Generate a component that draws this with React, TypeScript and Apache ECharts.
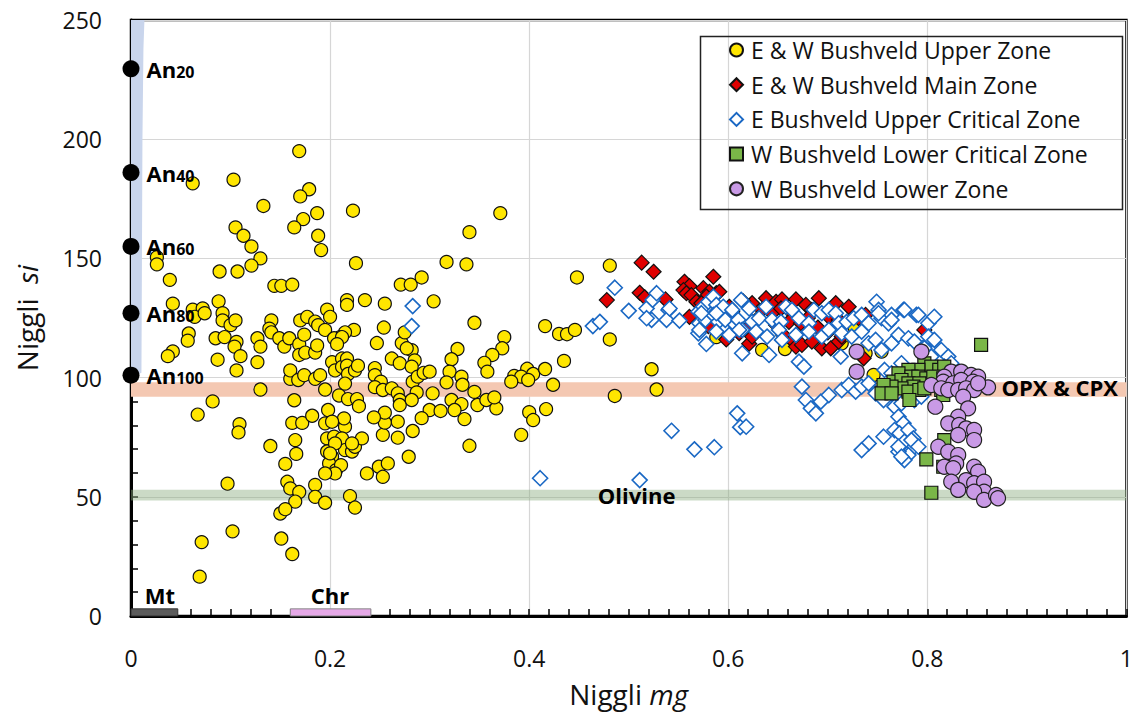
import React, { useEffect, useRef } from "react";
import * as echarts from "echarts";

// ---------- data (Niggli mg, Niggli si) ----------
const upperZone: number[][] = [
  [0.169,195],[0.103,183],[0.062,181.5],[0.179,179],[0.170,176],[0.133,172],[0.223,170],[0.187,169],[0.173,166.5],[0.105,163],[0.164,163],[0.113,159.5],[0.188,159.5],[0.121,155],[0.191,153.5],[0.130,150],[0.026,150.5],[0.026,147.5],[0.226,148],[0.121,147],[0.089,144.5],[0.107,144.5],[0.039,141],[0.144,138.5],[0.151,138.5],[0.162,139],
  [0.371,169],[0.340,161],[0.317,148.5],[0.337,147.5],[0.271,139],[0.281,139],[0.292,142],[0.481,147],[0.448,142],
  [0.042,131],[0.088,132],[0.062,128.5],[0.072,129],[0.064,125.5],[0.074,127],[0.217,132.5],[0.217,130.5],[0.235,132.5],[0.255,131],[0.304,132],[0.197,128.5],[0.200,125.5],[0.092,127],[0.092,124],[0.100,122],[0.105,124],[0.141,124],[0.139,120.5],[0.141,119],[0.170,124],[0.177,125.5],[0.185,123.5],[0.188,122],[0.224,120],[0.215,119],[0.210,117],[0.345,123],
  [0.058,118.5],[0.057,115.5],[0.085,116.5],[0.094,117],[0.106,115],[0.104,113],[0.110,109],[0.127,116.5],[0.130,113],[0.127,106.5],[0.087,107.5],[0.106,103],[0.042,111],[0.037,109],
  [0.149,116.5],[0.154,113],[0.159,116.5],[0.160,99.5],[0.195,120],[0.169,114],[0.174,118],[0.169,109.5],[0.175,110.5],[0.185,110.5],[0.187,113.5],[0.160,103],[0.168,99],[0.174,101],[0.185,99.5],[0.190,101],
  [0.204,116.5],[0.212,117],[0.207,114],[0.202,106.5],[0.205,103],[0.212,108],[0.212,104.5],[0.217,108],[0.217,105],[0.218,101.5],[0.225,103],[0.228,105],[0.215,97.5],[0.209,92.5],[0.218,91],[0.227,91],[0.229,88],[0.195,95],
  [0.247,114.5],[0.254,121],[0.272,114.5],[0.275,119],[0.262,108],[0.270,106],[0.282,111.5],[0.277,112.3],[0.285,107.2],[0.282,104.6],[0.245,104],[0.245,101],[0.251,98.3],[0.245,96],[0.253,94.8],[0.262,95.5],[0.268,93.4],[0.270,90.6],[0.270,88.5],[0.283,98.3],[0.288,100.4],[0.287,93.8],[0.282,90.6],[0.294,102],[0.300,102.5],[0.303,93.4],
  [0.375,117],[0.373,112.3],[0.363,109.5],[0.355,106.2],[0.358,102.5],[0.328,112],[0.322,107.7],[0.320,102.5],[0.332,100.4],[0.333,97],[0.317,98],[0.345,94],[0.300,86.4],[0.292,83],[0.311,86],[0.322,90.6],[0.332,88.9],[0.335,82.6],[0.325,86.4],[0.348,88.5],[0.357,90.6],[0.367,87.1],[0.365,91.7],[0.340,71.4],[0.283,77.6],[0.268,74.8],[0.253,76],[0.268,81.5],[0.255,81.1],[0.255,85.3],[0.244,83.3],[0.279,66.8],
  [0.416,121.6],[0.430,118.3],[0.438,118.2],[0.446,120],[0.481,116],[0.435,107],[0.398,103.7],[0.404,101.5],[0.416,103.6],[0.385,100.7],[0.392,100.4],[0.382,98.3],[0.399,99],[0.424,97],[0.523,103.5],[0.528,95],[0.486,92.3],[0.400,85.5],[0.404,82.2],[0.417,86.8],[0.392,76],
  [0.130,95],[0.082,90],[0.067,84.5],[0.164,90.5],[0.109,80.5],[0.108,77],[0.162,81],[0.172,81],[0.182,84],[0.195,80.8],[0.198,86.4],[0.215,79.4],[0.214,82.9],[0.202,81.5],
  [0.165,73.8],[0.166,68],[0.155,63.8],[0.140,71.3],[0.197,74.5],[0.197,69],[0.202,66.8],[0.199,64],[0.206,61.2],[0.211,63.3],[0.204,75.2],[0.212,74.5],[0.215,69.6],[0.222,69],[0.225,71],[0.232,74.5],[0.222,72.4],[0.205,72.4],[0.200,68.2],[0.205,59.8],
  [0.195,59.8],[0.185,55],[0.157,56.3],[0.160,53.5],[0.169,52],[0.165,48],[0.185,50],[0.195,47.5],[0.220,50.3],[0.225,45.5],[0.150,43],[0.155,44.8],
  [0.237,59.8],[0.249,62.6],[0.258,64],[0.253,58.4],
  [0.097,55.5],[0.102,35.5],[0.071,31],[0.151,32.5],[0.162,26],[0.069,16.5],
  [0.588,117],[0.585,124],[0.634,111.6],[0.657,112],[0.714,114.4],[0.738,110.2],[0.754,110.9],[0.746,101.1],[0.727,121]
];

const mainZone: number[][] = [
  [0.478,132.5],[0.513,148.2],[0.525,144.4],[0.511,135.6],[0.516,133.7],[0.537,132.8],
  [0.556,140.2],[0.561,138.4],[0.555,136.7],[0.558,135.4],[0.563,134.6],[0.585,142.3],
  [0.575,137.5],[0.581,136],[0.588,135.4],[0.578,134],[0.591,136],[0.568,131.8],[0.573,131.2],
  [0.561,125.5],[0.580,121.6],[0.598,116],[0.621,114.2],[0.601,129.7],[0.604,127.6],
  [0.624,131.2],[0.638,133.3],[0.648,131.8],[0.654,132.8],[0.668,132.8],[0.691,133.3],
  [0.634,128.4],[0.644,127],[0.653,129],[0.661,128.4],[0.678,130.5],[0.684,128.4],[0.708,131.2],[0.721,129.7],
  [0.648,122.1],[0.661,123.4],[0.673,122.8],[0.701,125.5],[0.711,124.2],[0.731,124.9],[0.738,126.3],
  [0.664,115.8],[0.668,113],[0.674,113.7],[0.684,115.1],[0.694,112.3],[0.703,112.3],[0.711,115.1],[0.714,117.2],
  [0.621,121.4],[0.611,118.6],[0.624,117.2],[0.736,108.1],[0.797,120],
  [0.630,125],[0.690,121],[0.655,118],[0.700,119],[0.615,132],[0.680,125],[0.592,126]
];

const upperCriticalZone: number[][] = [
  [0.283,130],[0.282,121.6],[0.411,57.8],[0.511,57],
  [0.464,121.6],[0.471,123.4],[0.486,137.7],[0.500,128],
  [0.518,129],[0.524,132.6],[0.528,135.4],[0.523,124.2],[0.518,124.9],[0.540,128.4],[0.538,124.2],[0.551,123.9],[0.541,129],
  [0.570,127.6],[0.575,129.7],[0.580,131.8],[0.585,133.9],[0.588,130.5],[0.595,129.7],[0.571,122.8],[0.577,124.2],[0.585,126.3],[0.590,123.4],[0.597,124.2],[0.607,122.1],[0.610,124.2],[0.613,132.6],[0.621,129],[0.624,123.4],[0.570,118.6],[0.578,114.1],[0.588,119.3],[0.601,117.9],[0.614,120],[0.614,110.2],
  [0.543,77.7],[0.609,85],[0.612,79.2],[0.566,69.9],[0.586,70.8],[0.618,79.4],
  [0.573,127],[0.588,127],[0.571,120],
  [0.604,128.4],[0.631,124.9],[0.638,129.7],[0.644,124.2],[0.653,123.4],[0.658,129.7],[0.664,128.4],[0.671,124.9],[0.681,122.8],[0.686,128.4],[0.694,127],[0.701,128.4],[0.708,127],[0.711,122.8],[0.719,123.4],[0.726,124.9],[0.734,126.3],[0.741,122.8],[0.749,131.8],[0.751,128.4],[0.754,124.9],[0.761,122.8],[0.764,126.3],[0.776,128.4],[0.789,126.3],[0.801,122.8],
  [0.611,120],[0.628,119.3],[0.639,117.2],[0.651,120],[0.654,115.8],[0.668,117.9],[0.681,119.3],[0.694,117.2],[0.701,120],[0.714,118.6],[0.724,117.2],[0.734,119.3],[0.741,114.4],[0.748,115.8],[0.754,111.6],[0.764,114.4],[0.771,117.9],[0.781,116.5],[0.787,115.1],[0.797,113],[0.801,117.2],
  [0.641,109.5],[0.671,106.7],[0.676,104.6],[0.713,108.8],[0.757,103.2],[0.764,101.8],[0.774,106],
  [0.674,96.2],[0.678,90.6],[0.683,87.1],[0.688,85],[0.693,89.9],[0.701,92.7],[0.714,94.8],[0.721,96.9],[0.728,94.1],[0.734,96.2],[0.741,97.6],[0.748,93.4],[0.756,90.6],[0.764,93.4],[0.767,87.8],[0.774,89.2],[0.781,96.2],[0.787,90.6],[0.794,92],
  [0.771,83.6],[0.776,80.8],[0.767,78],[0.772,76.6],[0.781,78],[0.786,74.5],[0.777,73.1],[0.787,71],[0.781,67.5],[0.756,75.2],[0.741,72.4],[0.734,69.6],[0.771,68.9],[0.777,65.4],
  [0.807,125.5],[0.777,128.4],[0.791,126.3],[0.764,124.2],[0.751,127],
  [0.807,115.8],[0.814,111.6],[0.821,108.8],[0.797,112.3],[0.804,108.8],[0.817,104.6],[0.824,106],
  [0.784,73.8],[0.791,71],[0.771,71],[0.774,66.8]
];

const lowerCriticalZone: number[][] = [
  [0.854,113.7],[0.797,106],[0.804,104.6],[0.812,103.2],[0.817,104.6],[0.791,103.2],[0.781,103.2],[0.771,101.8],
  [0.784,100.4],[0.791,100.4],[0.799,99.7],[0.806,100.4],[0.816,99.7],[0.766,98.3],[0.774,99],[0.781,97.6],
  [0.792,97.6],[0.786,96.2],[0.774,95.5],[0.764,96.2],[0.756,96.9],[0.754,93.4],[0.764,93.4],[0.781,94.1],
  [0.792,94.8],[0.797,95.5],[0.814,94.8],[0.816,92.7],[0.782,90.6],[0.817,73.8],[0.799,65.7],[0.816,62.6],[0.804,51.7]
];

const lowerZone: number[][] = [
  [0.729,110.9],[0.729,102.5],[0.794,110.9],
  [0.824,102.5],[0.834,102.5],[0.844,101.1],[0.851,100.4],[0.817,100.4],[0.816,98.3],[0.826,97.6],[0.834,99],[0.846,98.3],
  [0.804,96.9],[0.814,95.5],[0.821,94.8],[0.831,94.8],[0.839,95.5],[0.847,94.8],[0.861,95.9],[0.851,97.6],
  [0.836,92],[0.808,87.8],[0.841,87.1],[0.831,83.6],[0.821,80.8],[0.832,80.1],[0.839,78.7],[0.847,78],[0.831,75.9],[0.847,73.8],
  [0.811,71],[0.821,68.9],[0.831,67.5],[0.829,64],[0.817,62.6],[0.826,62],[0.847,62.6],[0.851,60.5],[0.839,57],[0.824,56.3],
  [0.847,55.7],[0.857,56.3],[0.857,52.1],[0.831,52.9],[0.847,52.1],[0.857,48.7],[0.869,50.8],[0.871,49.4]
];

const anorthite: [string, number][] = [["20", 229.5], ["40", 186], ["60", 155], ["80", 127], ["100", 101]];

// mineral reference bands [mgFrom, mgTo, siFrom, siTo]
const mineralBands: number[][] = [[0, 1, 92, 98], [0, 1, 48.5, 53], [0, 0.047, 0, 3], [0.16, 0.241, 0, 3]];
const plagioclaseBand: number[][] = [[0, 250], [0.0135, 250], [0.0125, 238], [0.0115, 200], [0.0105, 102], [0, 100]];
const annotations: { name: string; value: number[] }[] = [
  { name: "OPX & CPX", value: [0.933, 96] },
  { name: "Olivine", value: [0.508, 50.8] },
  { name: "Mt", value: [0.029, 8.8] },
  { name: "Chr", value: [0.2, 8.8] },
];

const seriesNames = [
  "E & W Bushveld Upper Zone",
  "E & W Bushveld Main Zone",
  "E Bushveld Upper Critical Zone",
  "W Bushveld Lower Critical Zone",
  "W Bushveld Lower Zone",
];

const FONT = "'Open Sans', 'Noto Sans', sans-serif";
const bandStyles = [
  { fill: "#f4c8b2", stroke: "none", lineWidth: 0 },
  { fill: "rgba(140,172,128,0.45)", stroke: "none", lineWidth: 0 },
  { fill: "#5c5c5c", stroke: "#333", lineWidth: 1 },
  { fill: "#e6a9e8", stroke: "#888", lineWidth: 1 },
];

export default function App() {
  const ref = useRef<HTMLDivElement>(null);
  useEffect(() => {
    if (!ref.current) return;
    const chart = echarts.init(ref.current, null, { renderer: "svg" });
    const scatterBase = { type: "scatter", clip: false, z: 3 } as any;
    const axisName = { rich: { a: { fontSize: 28, color: "#111", fontFamily: FONT }, b: { fontSize: 28, color: "#111", fontStyle: "italic", fontFamily: FONT } } };
    chart.setOption({
      animation: false,
      backgroundColor: "#fff",
      textStyle: { fontFamily: FONT },
      grid: { left: 131, right: 3, top: 20, bottom: 105, show: true, borderColor: "#000", borderWidth: 2.5, backgroundColor: "#fff" },
      legend: {
        data: seriesNames,
        orient: "vertical",
        left: 729,
        top: 38,
        padding: 0,
        itemWidth: 13,
        itemHeight: 13,
        itemGap: 10.7,
        textStyle: { fontSize: 23, color: "#111", fontFamily: FONT, lineHeight: 24, padding: [0, 0, 0, 3] },
      },
      graphic: [
        { type: "rect", left: 698, top: 34, shape: { width: 422, height: 173 }, style: { fill: "none", stroke: "#222", lineWidth: 1.5 }, z: 10 },
      ],
      xAxis: {
        type: "value",
        min: 0,
        max: 1,
        interval: 0.2,
        name: "{a|Niggli }{b|mg}",
        nameLocation: "middle",
        nameGap: 64,
        nameTextStyle: axisName,
        axisLine: { lineStyle: { color: "#000", width: 3 } },
        axisTick: { inside: true, length: 7, lineStyle: { color: "#000", width: 1.5 } },
        minorTick: { show: true, splitNumber: 10, length: 7, lineStyle: { color: "#000", width: 1.5 } },
        axisLabel: { fontSize: 23, color: "#111", margin: 30, fontFamily: FONT },
        splitLine: { show: true, lineStyle: { color: "#d6d6d6", width: 1.2 } },
      },
      yAxis: {
        type: "value",
        min: 0,
        max: 250,
        interval: 50,
        name: "{a|Niggli  }{b|si}",
        nameLocation: "middle",
        nameGap: 90,
        nameTextStyle: axisName,
        axisLine: { lineStyle: { color: "#000", width: 3 } },
        axisTick: { inside: true, length: 7, lineStyle: { color: "#000", width: 1.5 } },
        minorTick: { show: true, splitNumber: 5, length: 7, lineStyle: { color: "#000", width: 1.5 } },
        axisLabel: { fontSize: 23, color: "#111", margin: 29, fontFamily: FONT },
        splitLine: { show: true, lineStyle: { color: "#d6d6d6", width: 1.2 } },
      },
      series: [
        {
          type: "custom",
          z: 1,
          silent: true,
          data: mineralBands,
          encode: { x: [0, 1], y: [2, 3] },
          renderItem: (params: any, api: any) => {
            const p0 = api.coord([api.value(0), api.value(3)]);
            const p1 = api.coord([api.value(1), api.value(2)]);
            const s = bandStyles[params.dataIndex];
            return {
              type: "rect",
              shape: { x: p0[0], y: p0[1], width: p1[0] - p0[0], height: p1[1] - p0[1] },
              style: { fill: s.fill, stroke: s.stroke, lineWidth: s.lineWidth },
            };
          },
        },
        {
          type: "custom",
          z: 1,
          silent: true,
          data: [[0, 100]],
          renderItem: (_params: any, api: any) => ({
            type: "polygon",
            shape: { points: plagioclaseBand.map((p) => api.coord(p)) },
            style: { fill: "#c9d5ec" },
          }),
        },
        {
          ...scatterBase,
          name: seriesNames[0],
          data: upperZone,
          symbol: "circle",
          symbolSize: 13,
          itemStyle: { color: "#ffe600", borderColor: "#111", borderWidth: 1.2, opacity: 1 },
        },
        {
          ...scatterBase,
          name: seriesNames[1],
          data: mainZone,
          symbol: "diamond",
          symbolSize: 15,
          itemStyle: { color: "#e00000", borderColor: "#111", borderWidth: 1.2, opacity: 1 },
        },
        {
          ...scatterBase,
          name: seriesNames[2],
          data: upperCriticalZone,
          symbol: "diamond",
          symbolSize: 15,
          itemStyle: { color: "#ffffff", borderColor: "#1a68c4", borderWidth: 1.6, opacity: 1 },
        },
        {
          ...scatterBase,
          name: seriesNames[3],
          data: lowerCriticalZone,
          symbol: "rect",
          symbolSize: 13,
          itemStyle: { color: "#7ab648", borderColor: "#111", borderWidth: 1.2, opacity: 1 },
        },
        {
          ...scatterBase,
          name: seriesNames[4],
          data: lowerZone,
          symbol: "circle",
          symbolSize: 15,
          itemStyle: { color: "#c99ae6", borderColor: "#222", borderWidth: 1.2, opacity: 1 },
        },
        {
          ...scatterBase,
          name: "An",
          z: 5,
          silent: true,
          data: anorthite.map(([sub, si]) => ({ name: sub, value: [0, si] })),
          symbol: "circle",
          symbolSize: 17,
          itemStyle: { color: "#000", opacity: 1 },
          label: {
            show: true,
            position: "right",
            distance: 7,
            formatter: (p: any) => `{a|An}{b|${p.name}}`,
            rich: {
              a: { fontSize: 22, fontWeight: "bold", color: "#000", fontFamily: FONT, lineHeight: 22, verticalAlign: "top" },
              b: { fontSize: 16, fontWeight: "bold", color: "#000", fontFamily: FONT, lineHeight: 16, padding: [12, 0, 0, 0], verticalAlign: "bottom" },
            },
          },
        },
        {
          ...scatterBase,
          name: "labels",
          z: 5,
          silent: true,
          data: annotations,
          symbolSize: 1,
          itemStyle: { color: "rgba(0,0,0,0)", opacity: 1 },
          label: {
            show: true,
            position: "inside",
            formatter: (p: any) => p.name,
            fontSize: 22,
            fontWeight: "bold",
            color: "#000",
            opacity: 1,
            fontFamily: FONT,
          },
        },
      ],
    });
    return () => chart.dispose();
  }, []);
  return <div ref={ref} style={{ position: "absolute", left: 0, top: 0, width: 1136, height: 721 }} />;
}
